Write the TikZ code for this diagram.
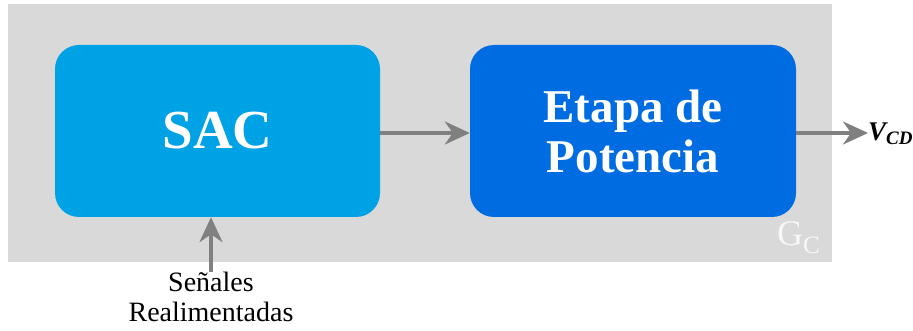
\documentclass[tikz,border=0pt]{standalone}
\usepackage{fontspec}
\setmainfont{Liberation Serif}
\usetikzlibrary{arrows.meta}
\definecolor{bggray}{RGB}{217,217,217}
\definecolor{sacblue}{RGB}{0,162,230}
\definecolor{etblue}{RGB}{0,108,226}
\definecolor{arrgray}{RGB}{128,128,128}
\definecolor{gcwhite}{RGB}{248,248,248}
\tikzset{
  blockbox/.style={rounded corners=24pt, inner sep=0pt, text=white},
  flowarrow/.style={draw=arrgray, line width=3.5pt, -{Stealth[length=25pt,width=23pt,inset=8pt]}},
}
\begin{document}
\begin{tikzpicture}[x=1pt,y=-1pt]
\useasboundingbox (0,0) rectangle (913,331);
\fill[bggray] (8,4) rectangle (832,262);
\node[blockbox, fill=sacblue, minimum width=325pt, minimum height=172pt, font=\fontsize{55}{60}\selectfont\bfseries] (sac) at (217.5,131) {SAC};
\node[blockbox, fill=etblue, minimum width=326pt, minimum height=172pt, align=center, font=\fontsize{47}{50}\selectfont\bfseries] (etapa) at (633,131) {Etapa de\\Potencia};
\node[anchor=west, inner sep=0pt, font=\fontsize{27}{28}\selectfont\bfseries\itshape] (vcd) at (868,134) {V\raisebox{-4pt}{\fontsize{19}{20}\selectfont CD}};
\node[anchor=base west, inner sep=0pt, text=gcwhite, font=\fontsize{36}{38}\selectfont] (gc) at (777,245) {G\raisebox{-9pt}{\fontsize{25}{26}\selectfont C}};
\node[anchor=north, inner sep=0pt, align=center, font=\fontsize{28}{29.5}\selectfont] (sen) at (211,272) {Señales\\Realimentadas};
\draw[flowarrow] (sac.east |- 0,133) -- (etapa.west |- 0,133);
\draw[flowarrow] (etapa.east |- 0,133) -- (vcd.west |- 0,133);
\draw[flowarrow] (sen.north) -- (sen.north |- sac.south);
\end{tikzpicture}
\end{document}
